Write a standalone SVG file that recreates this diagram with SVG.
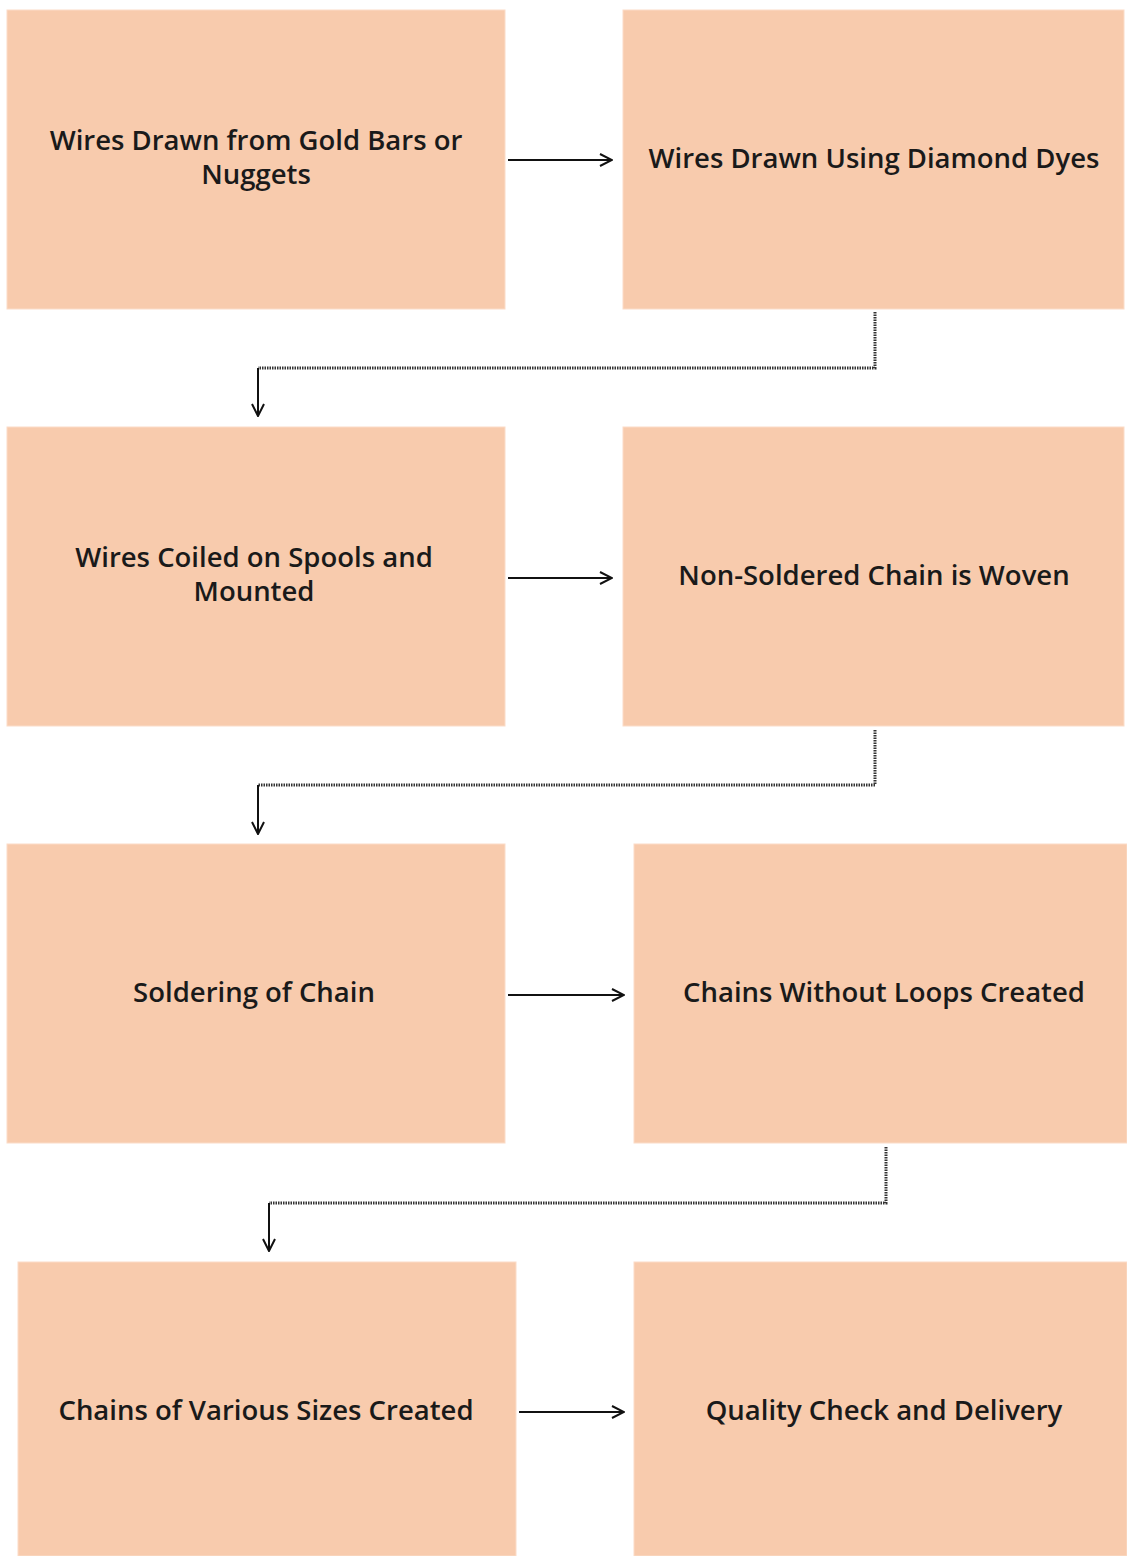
<svg xmlns="http://www.w3.org/2000/svg" width="1127" height="1556" viewBox="0 0 1127 1556">
<defs>
<style>
.box{fill:#F8CBAD;stroke:#FBDCC8;stroke-width:1}
.t{font-family:"Open Sans","Liberation Sans",sans-serif;font-size:27.5px;font-weight:600;fill:#1a1a1a;text-anchor:middle}
.c{fill:none;stroke:#111;stroke-width:2}
.w{fill:none;stroke:#333;stroke-width:3;stroke-dasharray:1.5 1}
</style>
<marker id="ah" viewBox="0 0 14 14" refX="13" refY="7" markerWidth="14" markerHeight="14" markerUnits="userSpaceOnUse" orient="auto">
<path d="M1,1 L13,7 L1,13" fill="none" stroke="#111" stroke-width="2"/>
</marker>
</defs>
<rect width="1127" height="1556" fill="#fff"/>
<g id="n1"><rect class="box" x="7" y="10" width="498" height="299"/><text class="t" x="256" y="150">Wires Drawn from Gold Bars or</text><text class="t" x="256" y="184">Nuggets</text></g>
<g id="n2"><rect class="box" x="623" y="10" width="501" height="299"/><text class="t" x="874" y="168">Wires Drawn Using Diamond Dyes</text></g>
<g id="n3"><rect class="box" x="7" y="427" width="498" height="299"/><text class="t" x="254" y="567">Wires Coiled on Spools and</text><text class="t" x="254" y="601">Mounted</text></g>
<g id="n4"><rect class="box" x="623" y="427" width="501" height="299"/><text class="t" x="874" y="585">Non-Soldered Chain is Woven</text></g>
<g id="n5"><rect class="box" x="7" y="844" width="498" height="299"/><text class="t" x="254" y="1002">Soldering of Chain</text></g>
<g id="n6"><rect class="box" x="634" y="844" width="493" height="299"/><text class="t" x="884" y="1002">Chains Without Loops Created</text></g>
<g id="n7"><rect class="box" x="18" y="1262" width="498" height="294"/><text class="t" x="266" y="1420">Chains of Various Sizes Created</text></g>
<g id="n8"><rect class="box" x="634" y="1262" width="493" height="294"/><text class="t" x="884" y="1420">Quality Check and Delivery</text></g>
<g id="connectors">
<path class="c" d="M508,160 L612,160" marker-end="url(#ah)"/>
<path class="c" d="M508,578 L612,578" marker-end="url(#ah)"/>
<path class="c" d="M508,995 L624,995" marker-end="url(#ah)"/>
<path class="c" d="M519,1412 L624,1412" marker-end="url(#ah)"/>
<path class="w" d="M875,312 L875,368 L258,368"/>
<path class="c" d="M258,368 L258,416" marker-end="url(#ah)"/>
<path class="w" d="M875,730 L875,785 L258,785"/>
<path class="c" d="M258,785 L258,834" marker-end="url(#ah)"/>
<path class="w" d="M886,1147 L886,1203 L269,1203"/>
<path class="c" d="M269,1203 L269,1251" marker-end="url(#ah)"/>
</g>
</svg>
